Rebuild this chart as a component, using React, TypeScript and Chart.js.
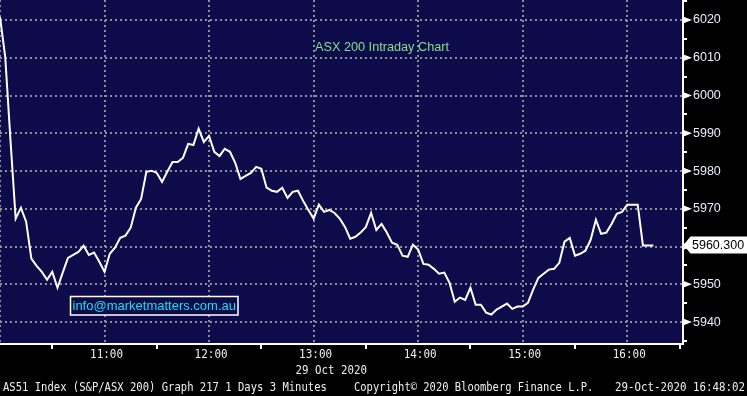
import React, { useEffect, useRef } from "react";
import { Chart, registerables } from "chart.js";

Chart.register(...registerables);

// ---- data ----
const STEP_MINUTES = 3; // bar interval, minutes after 10:00
const prices: number[] = [
  6020.8, 6010.2, 5988.3, 5967.4, 5970.3, 5966.6, 5956.8, 5954.9, 5953.3, 5951.2,
  5953.3, 5949.1, 5953.1, 5957.0, 5957.8, 5958.6, 5960.2, 5957.8, 5958.4, 5956.0,
  5953.3, 5958.1, 5959.7, 5962.3, 5962.9, 5965.0, 5970.3, 5972.6, 5979.8, 5980.1,
  5979.5, 5977.1, 5979.8, 5982.4, 5982.4, 5983.5, 5987.2, 5986.9, 5991.2, 5987.7,
  5989.3, 5985.1, 5984.0, 5985.9, 5985.1, 5982.2, 5977.9, 5978.7, 5979.5, 5981.1,
  5980.6, 5975.6, 5974.8, 5974.5, 5975.6, 5972.9, 5974.5, 5974.8, 5972.1, 5969.7,
  5967.4, 5971.1, 5969.2, 5969.7, 5968.9, 5967.4, 5965.2, 5962.1, 5962.6, 5963.7,
  5965.2, 5968.9, 5964.4, 5966.0, 5963.7, 5961.0, 5960.5, 5957.6, 5957.3, 5960.5,
  5959.2, 5955.4, 5955.2, 5954.1, 5952.8, 5953.1, 5950.4, 5945.4, 5946.5, 5945.9,
  5949.1, 5944.6, 5944.6, 5942.5, 5942.0, 5943.3, 5944.1, 5944.9, 5943.5, 5944.1,
  5944.1, 5945.1, 5948.6, 5951.7, 5952.8, 5953.9, 5954.1, 5955.7, 5961.3, 5962.3,
  5957.6, 5958.1, 5958.9, 5961.8, 5967.1, 5963.4, 5963.7, 5966.0, 5968.7, 5969.2,
  5971.1, 5971.1, 5971.1, 5960.3, 5960.3, 5960.3,
];
const hourTickMinutes: number[] = [60, 120, 180, 240, 300, 360];
const hourTickLabels: string[] = ["11:00", "12:00", "13:00", "14:00", "15:00", "16:00"];
const X_MIN = 0;
const X_MAX = 392;
const Y_MIN = 5934.2;
const Y_MAX = 6025.3;
const lastPriceLabel = "5960.300";
const titleText = "ASX 200 Intraday Chart";
const contactText = "info@marketmatters.com.au";
const dateText = "29 Oct 2020";
const footerLeft = "AS51 Index (S&P/ASX 200) Graph 217 1 Days 3 Minutes";
const footerMid = "Copyright\u00A9 2020 Bloomberg Finance L.P.";
const footerRight = "29-Oct-2020 16:48:02";

// ---- styles ----
const NAVY = "#0e0b4b";
const GRID = "#8e8e96";
const MONO_COLOR = "#f0f0f4";
const LABEL_COLOR = "#e8eeff";

function drawMono(
  ctx: CanvasRenderingContext2D,
  text: string,
  x: number,
  y: number,
  charW: number,
  size: number,
  align: "left" | "center" | "right" = "left"
) {
  ctx.save();
  ctx.font = `${size}px "DejaVu Sans Mono"`;
  const natural = ctx.measureText(text).width;
  const target = charW * text.length;
  const sx = target / natural;
  const x0 = align === "center" ? x - target / 2 : align === "right" ? x - target : x;
  ctx.translate(x0, y);
  ctx.scale(sx, 1);
  ctx.textBaseline = "middle";
  ctx.textAlign = "left";
  ctx.fillStyle = MONO_COLOR;
  ctx.fillText(text, 0, 0);
  ctx.restore();
}

const zeroPad = (s: any) => {
  s.paddingTop = 0;
  s.paddingBottom = 0;
  s.paddingLeft = 0;
  s.paddingRight = 0;
};

const overlayPlugin = {
  id: "bbgOverlay",
  beforeDraw(chart: any) {
    const { ctx, chartArea } = chart;
    ctx.save();
    ctx.fillStyle = "#000";
    ctx.fillRect(0, 0, chart.width, chart.height);
    ctx.fillStyle = NAVY;
    ctx.fillRect(chartArea.left, chartArea.top, chartArea.right - chartArea.left, chartArea.bottom - chartArea.top);
    ctx.restore();
  },
  afterDraw(chart: any) {
    const { ctx, chartArea } = chart;
    const xs = chart.scales.x;
    const ys = chart.scales.y;
    const right = chartArea.right;

    // triangles at major y ticks
    ctx.save();
    ctx.fillStyle = "#ffffff";
    for (const t of ys.ticks) {
      if (Math.round(t.value) % 10 !== 0) continue;
      const y = ys.getPixelForValue(t.value);
      ctx.beginPath();
      ctx.moveTo(right, y - 3.5);
      ctx.lineTo(right + 9, y);
      ctx.lineTo(right, y + 3.5);
      ctx.closePath();
      ctx.fill();
    }
    ctx.restore();

    // last value box
    const lastVal = prices[prices.length - 1];
    const ly = Math.round(ys.getPixelForValue(lastVal));
    ctx.save();
    ctx.fillStyle = "#ffffff";
    ctx.beginPath();
    ctx.moveTo(right + 0.5, ly);
    ctx.lineTo(right + 7.5, ly - 8.5);
    ctx.lineTo(chart.width, ly - 8.5);
    ctx.lineTo(chart.width, ly + 8.5);
    ctx.lineTo(right + 7.5, ly + 8.5);
    ctx.closePath();
    ctx.fill();
    ctx.fillStyle = "#000";
    ctx.font = '12.5px "Liberation Sans"';
    ctx.textBaseline = "middle";
    ctx.textAlign = "left";
    ctx.fillText(lastPriceLabel, right + 9, ly + 0.5);
    ctx.restore();

    // title
    ctx.save();
    ctx.fillStyle = "#7fe28c";
    ctx.font = '12.7px "Liberation Sans"';
    ctx.textBaseline = "middle";
    ctx.textAlign = "left";
    ctx.fillText(titleText, 315, 47);
    ctx.restore();

    // contact box
    ctx.save();
    ctx.fillStyle = NAVY;
    ctx.fillRect(70, 296, 168, 19);
    ctx.strokeStyle = "#ffffff";
    ctx.lineWidth = 1.5;
    ctx.strokeRect(70.5, 296.5, 167.5, 18.5);
    ctx.fillStyle = "#12e2ee";
    ctx.font = '13px "Liberation Sans"';
    ctx.textBaseline = "middle";
    ctx.textAlign = "left";
    ctx.fillText(contactText, 72.5, 306.5);
    ctx.restore();

    // x hour labels
    hourTickMinutes.forEach((m, i) => {
      const px = xs.getPixelForValue(m);
      drawMono(ctx, hourTickLabels[i], px + 2, 354.5, 6.6, 13, "center");
    });
    // date under 13:00
    drawMono(ctx, dateText, xs.getPixelForValue(180) - 18, 370.5, 6.5, 13, "left");

    // footer
    drawMono(ctx, footerLeft, 3, 388, 6.35, 13, "left");
    drawMono(ctx, footerMid, 354, 388, 6.3, 13, "left");
    drawMono(ctx, footerRight, 745, 388, 6.5, 13, "right");
  },
};

export default function App() {
  const canvasRef = useRef<HTMLCanvasElement | null>(null);

  useEffect(() => {
    if (!canvasRef.current) return;
    const points = prices.map((p, i) => ({ x: i * STEP_MINUTES, y: p }));
    const chart = new Chart(canvasRef.current, {
      type: "line",
      data: {
        datasets: [
          {
            data: points,
            borderColor: "#ffffff",
            borderWidth: 2,
            pointRadius: 0,
            tension: 0,
            fill: false,
          },
        ],
      },
      options: {
        animation: false,
        responsive: false,
        maintainAspectRatio: false,
        devicePixelRatio: 1,
        layout: { padding: 0 },
        plugins: {
          legend: { display: false },
          tooltip: { enabled: false },
          title: { display: false },
        },
        scales: {
          x: {
            type: "linear",
            position: "bottom",
            min: X_MIN,
            max: X_MAX,
            afterFit: (s: any) => {
              s.height = 52;
              zeroPad(s);
            },
            ticks: {
              stepSize: 30,
              display: false,
              autoSkip: false,
              includeBounds: false,
            },
            grid: {
              color: (c: any) => (c.tick && Math.round(c.tick.value) % 60 === 0 ? GRID : "rgba(0,0,0,0)"),
              lineWidth: 2,
              drawTicks: true,
              tickLength: 5,
              tickWidth: 2,
              tickColor: (c: any) => (c.tick && Math.round(c.tick.value) % 60 === 0 ? "rgba(0,0,0,0)" : "#ffffff"),
              tickBorderDash: [],
            },
            border: { display: true, color: "#ffffff", width: 2, dash: [2, 3] },
          },
          y: {
            type: "linear",
            position: "right",
            min: Y_MIN,
            max: Y_MAX,
            afterFit: (s: any) => {
              s.width = 64;
              zeroPad(s);
            },
            ticks: {
              stepSize: 5,
              autoSkip: false,
              includeBounds: false,
              padding: 6,
              color: LABEL_COLOR,
              font: { family: "Liberation Sans", size: 12.5 },
              callback: (v: any) => (Math.round(Number(v)) % 10 === 0 ? String(Math.round(Number(v))) : ""),
            },
            grid: {
              color: (c: any) => (c.tick && Math.round(c.tick.value) % 10 === 0 ? GRID : "rgba(0,0,0,0)"),
              lineWidth: 2,
              drawTicks: true,
              tickLength: 4,
              tickWidth: 2,
              tickColor: "#ffffff",
              tickBorderDash: [],
            },
            border: { display: true, color: "#ffffff", width: 2, dash: [2, 3] },
          },
        },
      },
      plugins: [overlayPlugin],
    });
    return () => chart.destroy();
  }, []);

  return (
    <div style={{ position: "fixed", left: 0, top: 0, width: 747, height: 396, background: "#000" }}>
      <canvas ref={canvasRef} width={747} height={396} style={{ display: "block" }} />
    </div>
  );
}
